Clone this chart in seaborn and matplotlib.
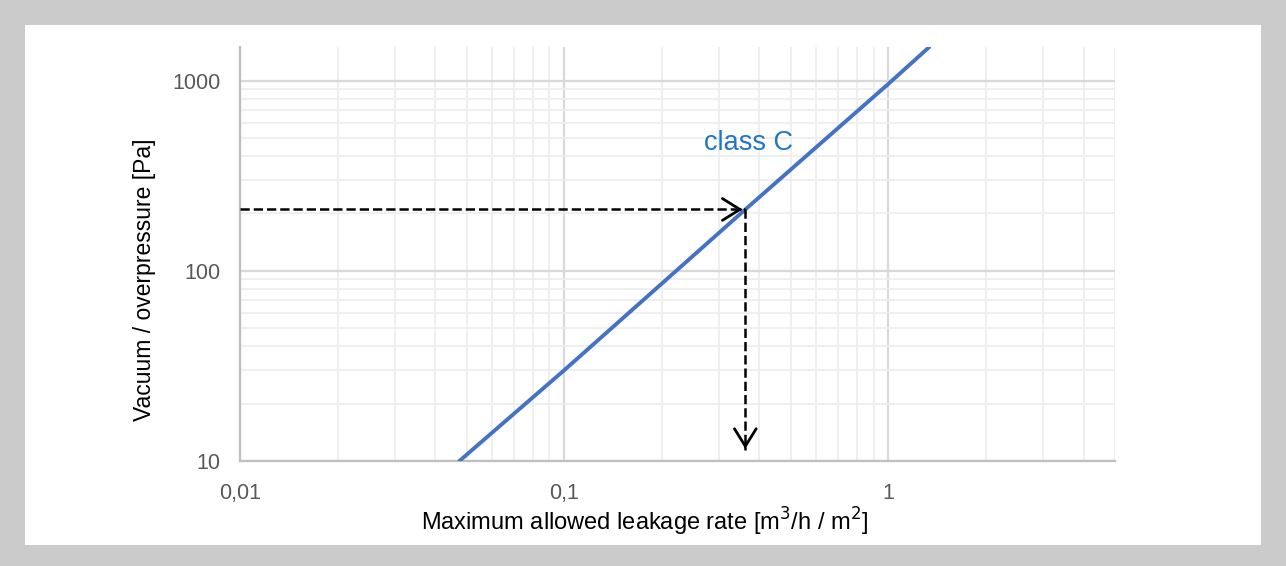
import numpy as np
import pandas as pd
import seaborn as sns
import matplotlib.pyplot as plt
from matplotlib.patches import Rectangle

# class C line
leak = [0.0475, 0.1, 0.362, 1.0, 1.337]
pressure = [10, 30, 210, 960, 1500]

# example reading (dashed arrows)
ex_leak = 0.362
ex_pressure = 210
arrow_end = 11.2

x_ticks = [0.01, 0.1, 1]
x_ticklabels = ['0,01', '0,1', '1']
y_ticks = [10, 100, 1000]
y_ticklabels = ['10', '100', '1000']

sns.set_style('white')
plt.rcParams['font.family'] = ['Liberation Sans', 'DejaVu Sans']

fig = plt.figure(figsize=(12.86, 5.66), dpi=100, facecolor='#cbcbcb')
fig.add_artist(Rectangle((25 / 1286, 21 / 566), 1236 / 1286, 520 / 566,
                         transform=fig.transFigure, facecolor='white',
                         edgecolor='none', zorder=-10))
ax = fig.add_axes([240 / 1286, 105 / 566, 875 / 1286, 414 / 566])
ax.set_zorder(1)

df = pd.DataFrame({'leak': leak, 'pressure': pressure})
sns.lineplot(data=df, x='leak', y='pressure', ax=ax, color='#4472c4', linewidth=2.8, zorder=5)

ax.set_xscale('log')
ax.set_yscale('log')
ax.set_xlim(0.01, 5)
ax.set_ylim(10, 1500)

# grid
ax.grid(True, which='major', color='#d9d9d9', linewidth=1.6)
ax.grid(True, which='minor', color='#eeeeee', linewidth=1.3)
ax.set_axisbelow(True)

# dashed arrows
head = dict(arrowstyle='->,head_length=0.45,head_width=0.28', color='black', lw=2, mutation_scale=28)
ax.plot([0.01, ex_leak], [ex_pressure, ex_pressure], ls='--', color='black', lw=1.8, zorder=6)
ax.plot([ex_leak, ex_leak], [ex_pressure, arrow_end * 1.02], ls='--', color='black', lw=1.8, zorder=6)
ax.annotate('', xy=(ex_leak, ex_pressure), xytext=(ex_leak * 0.93, ex_pressure),
            arrowprops=head, zorder=7)
ax.annotate('', xy=(ex_leak, arrow_end), xytext=(ex_leak, arrow_end * 1.12),
            arrowprops=head, zorder=7)

ax.text(0.37, 470, 'class C', color='#1f77c4', fontsize=19.5, ha='center', va='center')

ax.set_xticks(x_ticks)
ax.set_xticklabels(x_ticklabels)
ax.set_yticks(y_ticks)
ax.set_yticklabels(y_ticklabels)
ax.tick_params(axis='both', which='both', length=0, labelsize=15.5, labelcolor='#595959')
ax.tick_params(axis='x', pad=16)
ax.tick_params(axis='y', pad=14)
ax.minorticks_on()
ax.tick_params(which='minor', length=0)
ax.xaxis.set_minor_formatter(plt.NullFormatter())
ax.yaxis.set_minor_formatter(plt.NullFormatter())

for side in ['top', 'right']:
    ax.spines[side].set_visible(False)
for side in ['left', 'bottom']:
    ax.spines[side].set_color('#bfbfbf')
    ax.spines[side].set_linewidth(1.6)

ax.set_xlabel('Maximum allowed leakage rate [m$^3$/h / m$^2$]', fontsize=17, color='black', va='center')
ax.set_ylabel('Vacuum / overpressure [Pa]', fontsize=16.5, color='black', va='center')
ax.xaxis.set_label_coords(0.462, -0.147)
ax.yaxis.set_label_coords(-0.109, 0.437)

fig.savefig('out.png', dpi=100, facecolor=fig.get_facecolor())
